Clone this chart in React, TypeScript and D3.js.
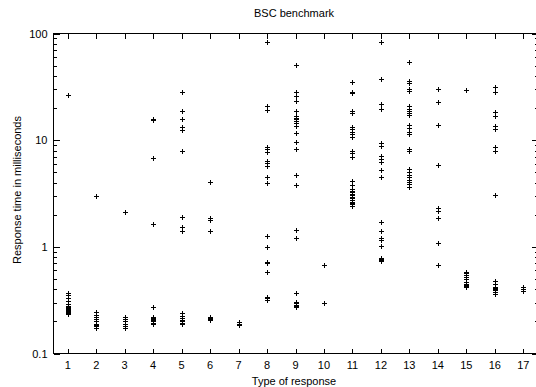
import React from "react";
import * as d3 from "d3";

// response times (ms) per response type
const type1 = [26.5, 0.37, 0.35, 0.33, 0.31, 0.29, 0.28, 0.27, 0.265, 0.26, 0.255, 0.25, 0.245, 0.24, 0.235];
const type2 = [3.0, 0.245, 0.23, 0.22, 0.21, 0.2, 0.19, 0.185, 0.18, 0.175];
const type3 = [2.13, 0.222, 0.21, 0.2, 0.19, 0.18, 0.175];
const type4 = [15.9, 15.6, 6.8, 1.63, 0.27, 0.22, 0.215, 0.21, 0.205, 0.2, 0.195, 0.19];
const type5 = [28.4, 18.7, 15.7, 13.4, 12.5, 7.9, 1.92, 1.54, 1.41, 0.24, 0.225, 0.215, 0.205, 0.2, 0.195, 0.19];
const type6 = [4.07, 1.85, 1.78, 1.41, 0.222, 0.215, 0.21, 0.205];
const type7 = [0.198, 0.19, 0.185];
const type8 = [83.5, 21, 19.2, 8.7, 8.2, 7.8, 6.4, 6.1, 5.75, 4.5, 4.0, 1.27, 0.99, 0.72, 0.7, 0.58, 0.34, 0.33, 0.32, 0.315];
const type9 = [50.5, 28, 25.7, 23.4, 18.8, 16.9, 16.2, 15.7, 15.2, 14.4, 13.6, 11.6, 9.7, 8.2, 4.7, 3.8, 1.43, 1.22, 0.37, 0.305, 0.295, 0.285, 0.28, 0.27];
const type10 = [0.67, 0.295];
const type11 = [35.2, 28.5, 27.5, 18.6, 17.8, 13.4, 12.7, 12.0, 11.4, 10.6, 7.9, 7.5, 6.9, 4.15, 3.8, 3.5, 3.35, 3.25, 3.15, 3.05, 2.95, 2.85, 2.75, 2.65, 2.55, 2.5, 2.42];
const type12 = [83.5, 37.3, 21.8, 19.8, 9.4, 8.9, 7.1, 6.7, 6.2, 5.2, 4.5, 1.72, 1.41, 1.2, 1.15, 1.02, 0.79, 0.77, 0.75, 0.73];
const type13 = [54, 36, 34, 30, 29, 21, 19.8, 18.8, 17.9, 17.2, 13.8, 13.1, 12, 11.4, 8.3, 7.9, 5.4, 5.0, 4.7, 4.5, 4.25, 4.05, 3.9, 3.6];
const type14 = [30, 22.9, 13.8, 5.8, 2.3, 2.15, 1.85, 1.08, 0.68];
const type15 = [29.4, 0.585, 0.57, 0.55, 0.52, 0.5, 0.47, 0.45, 0.44, 0.43, 0.42];
const type16 = [31.8, 28, 18.4, 16.9, 13.6, 12.7, 8.7, 7.9, 3.05, 0.48, 0.45, 0.42, 0.41, 0.4, 0.39, 0.375, 0.36];
const type17 = [0.42, 0.4, 0.385];

const types = [type1, type2, type3, type4, type5, type6, type7, type8, type9, type10, type11, type12, type13, type14, type15, type16, type17];
const xTicks = d3.range(1, 18);
const yTicks = [0.1, 1, 10, 100];

const W = 536, H = 387;
const FONT = "'Liberation Sans', Arial, sans-serif";

export default function App() {
  const x = d3.scaleLinear().domain([0.5, 17.5]).range([53.5, 537.5]);
  const y = d3.scaleLog().domain([0.1, 100]).range([353.5, 33.5]);

  const points = types.flatMap((vals, i) => vals.map(v => ({ t: i + 1, v })));

  // minor ticks on the log axis: 2..9 in each decade
  const minor: number[] = [];
  for (const d of [0.1, 1, 10]) for (let k = 2; k <= 9; k++) minor.push(d * k);

  const [x0, x1] = x.range();
  const [y0, y1] = y.range();

  return (
    <svg width={W} height={H} style={{ position: "absolute", left: 0, top: 0, background: "#fff" }}
      fontFamily={FONT} fontSize={11}>
      <g stroke="#000" strokeWidth={1} shapeRendering="crispEdges" fill="none">
        <rect x={x0} y={y1} width={x1 - x0} height={y0 - y1} />
        {xTicks.map(t => {
          const px = Math.round(x(t)) + 0.5;
          return (
            <g key={"xt" + t}>
              <line x1={px} x2={px} y1={y0} y2={y0 - 5} />
              <line x1={px} x2={px} y1={y1} y2={y1 + 5} />
            </g>
          );
        })}
        {yTicks.map(t => {
          const py = Math.round(y(t)) + 0.5;
          return (
            <g key={"yt" + t}>
              <line x1={x0} x2={x0 + 6} y1={py} y2={py} />
              <line x1={x1} x2={x1 - 6} y1={py} y2={py} />
            </g>
          );
        })}
        {minor.map(t => {
          const py = Math.round(y(t)) + 0.5;
          return (
            <g key={"ym" + t}>
              <line x1={x0} x2={x0 + 3} y1={py} y2={py} />
              <line x1={x1} x2={x1 - 3} y1={py} y2={py} />
            </g>
          );
        })}
      </g>

      <g stroke="#000" strokeWidth={1} shapeRendering="crispEdges">
        {points.map((p, i) => {
          const px = Math.round(x(p.t)) + 0.5;
          const py = Math.round(y(p.v)) + 0.5;
          return <path key={i} d={`M${px - 2.5},${py}H${px + 2.5}M${px},${py - 2.5}V${py + 2.5}`} />;
        })}
      </g>

      <g fill="#000">
        {xTicks.map(t => (
          <text key={"xl" + t} x={x(t)} y={369} textAnchor="middle">{t}</text>
        ))}
        {yTicks.map(t => (
          <text key={"yl" + t} x={47.5} y={y(t) + 4} textAnchor="end">{t}</text>
        ))}
        <text x={294} y={17} textAnchor="middle">BSC benchmark</text>
        <text x={294} y={385} textAnchor="middle">Type of response</text>
        <text transform={`translate(21,190) rotate(-90)`} textAnchor="middle">Response time in milliseconds</text>
      </g>
    </svg>
  );
}
